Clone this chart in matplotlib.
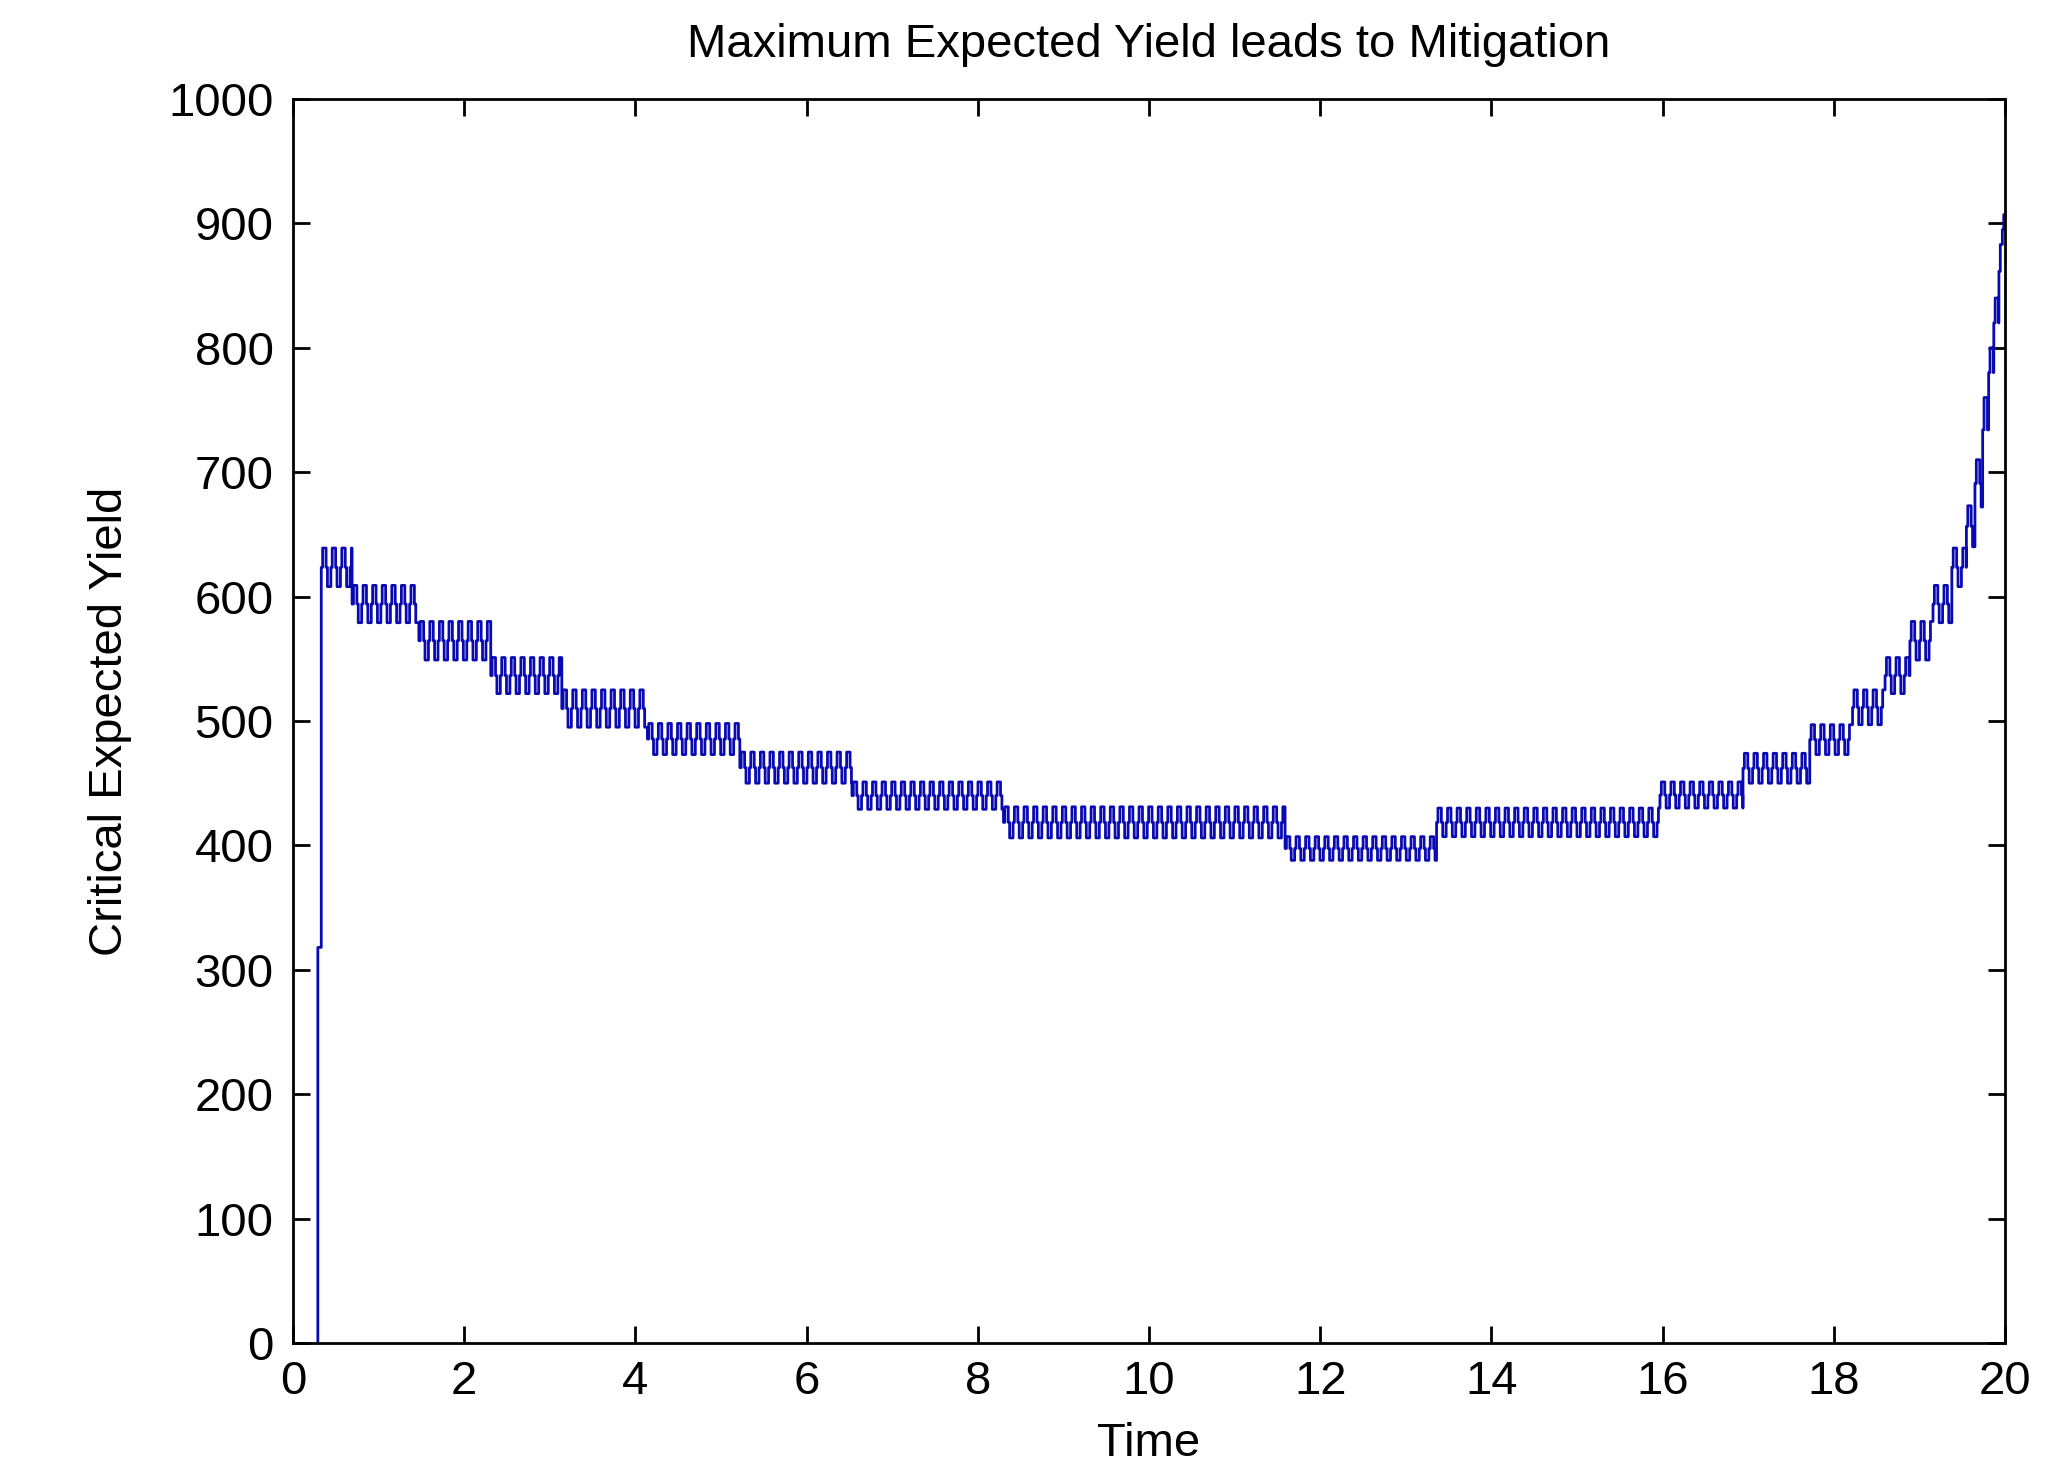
import numpy as np
import matplotlib
matplotlib.use("Agg")
import matplotlib.pyplot as plt

plt.rcParams['font.family'] = ['Liberation Sans', 'DejaVu Sans']

# lead-in before the first plateau
lead_t = [0.29, 0.29]
lead_y = [0, 318]

# plateaus: each one flickers between a high and a low level
block_start = [0.33, 0.69, 1.47, 2.31, 3.14, 4.14, 5.22, 6.53, 8.30, 11.59,
               13.36, 15.97, 16.94, 17.72, 18.22, 18.60, 18.89, 19.16, 19.38,
               19.55, 19.65, 19.74, 19.81, 19.87, 19.93, 19.97]
block_hi = [639, 609, 580, 551, 525, 498, 475, 451, 431, 407,
            430, 451, 474, 497, 525, 551, 580, 609, 639,
            673, 710, 760, 800, 840, 883, 907]
block_lo = [608, 579, 549, 522, 495, 473, 450, 429, 406, 388,
            407, 430, 450, 473, 497, 522, 549, 579, 608,
            640, 672, 708, 760, 800, 840, 883]
t_end = 20.0

# flicker timing (time units)
gap = 0.016
bar = 0.040

ts = list(lead_t)
ys = list(lead_y)
ends = block_start[1:] + [t_end]
for s, e, hi, lo in zip(block_start, ends, block_hi, block_lo):
    mid = (hi + lo) / 2
    t = s
    for dur, val in [(gap, mid), (bar, hi), (gap, mid), (bar, lo)] * 1000:
        if t >= e:
            break
        ts.append(t)
        ys.append(val)
        t += dur
ts.append(t_end)
ys.append(block_hi[-1])

fig = plt.figure(figsize=(20.65, 14.66), dpi=100)
ax = fig.add_axes([0.1419, 0.0839, 0.8290, 0.8486])
ax.plot(ts, ys, drawstyle='steps-post', color='#0a0ab4', linewidth=2.0)

ax.set_xlim(0, 20)
ax.set_ylim(0, 1000)
ax.set_xticks(np.arange(0, 21, 2))
ax.set_yticks(np.arange(0, 1001, 100))
ax.tick_params(direction='in', length=12, width=2, labelsize=34,
               top=True, right=True)
ax.tick_params(axis='x', pad=12)
ax.tick_params(axis='y', pad=14)
for sp in ax.spines.values():
    sp.set_linewidth(2)

ax.set_title('Maximum Expected Yield leads to Mitigation', fontsize=34, pad=30)
ax.set_xlabel('Time', fontsize=34, labelpad=13)
ax.set_ylabel('Critical Expected Yield', fontsize=34, labelpad=26)

fig.savefig('out.png', dpi=100)
